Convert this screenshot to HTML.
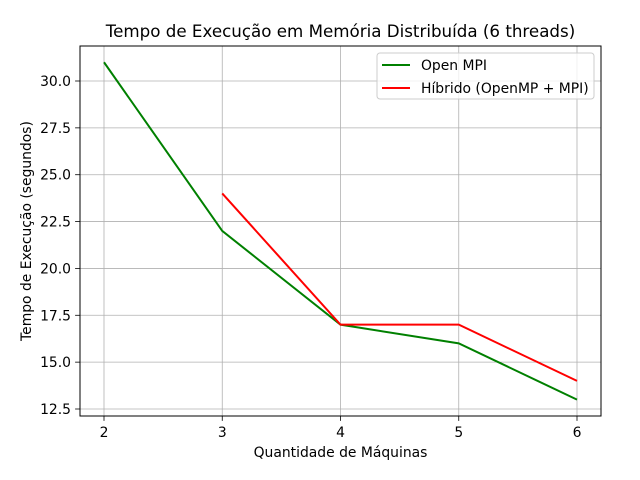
<!DOCTYPE html>
<html><head><meta charset="utf-8"><style>body{margin:0;background:#fff}svg{display:block;font-family:"DejaVu Sans","Liberation Sans",sans-serif}</style></head>
<body>
<svg id="c" width="640" height="480" xmlns="http://www.w3.org/2000/svg"></svg>
<script>
const categories=[2,3,4,5,6];
const openMpi=[31,22,17,16,13];
const hibrido=[null,24,17,17,14];
const yTicks=[12.5,15.0,17.5,20.0,22.5,25.0,27.5,30.0];
const L=80,R=601,T=46,B=416;
const xs=v=>104+(v-2)*(577-104)/4;
const ys=v=>409-(v-12.5)*(409-81)/17.5;
const svg=document.getElementById('c');
const NS='http://www.w3.org/2000/svg';
function mk(t,a,txt){const e=document.createElementNS(NS,t);for(const k in a)e.setAttribute(k,a[k]);if(txt!=null)e.textContent=txt;svg.appendChild(e);return e;}
let e;
e=mk('rect',{x:L,y:T,width:R-L,height:B-T,fill:'#fff'});


categories.forEach(c=>{const x=xs(c);
e=mk('line',{x1:x,x2:x,y1:T,y2:B,stroke:'#b0b0b0','stroke-width':0.8});


mk('line',{x1:x,x2:x,y1:B,y2:B+4.9,stroke:'#000','stroke-width':0.8});
e=mk('text',{x:x,y:B+21,'text-anchor':'middle','font-size':13.9},String(c));


});
yTicks.forEach(v=>{const y=ys(v);
e=mk('line',{x1:L,x2:R,y1:y,y2:y,stroke:'#b0b0b0','stroke-width':0.8});


mk('line',{x1:L-4.9,x2:L,y1:y,y2:y,stroke:'#000','stroke-width':0.8});
e=mk('text',{x:L-9,y:y+5,'text-anchor':'end','font-size':13.9},v.toFixed(1));


});
function line(data,color,name){let d='';data.forEach((v,i)=>{if(v==null)return;d+=(d?'L':'M')+xs(categories[i])+' '+ys(v);});
e=mk('path',{d:d,fill:'none',stroke:color,'stroke-width':2});

}
line(openMpi,'green','open-mpi-line');
line(hibrido,'red','hibrido-line');
e=mk('rect',{x:L,y:T,width:R-L,height:B-T,fill:'none',stroke:'#000','stroke-width':1});


e=mk('text',{x:(L+R)/2,y:37,'text-anchor':'middle','font-size':16.7},'Tempo de Execução em Memória Distribuída (6 threads)');


e=mk('text',{x:(L+R)/2,y:457,'text-anchor':'middle','font-size':13.9},'Quantidade de Máquinas');


e=mk('text',{x:31,y:(T+B)/2,'text-anchor':'middle','font-size':13.9,transform:'rotate(-90 31 '+((T+B)/2)+')'},'Tempo de Execução (segundos)');


e=mk('rect',{x:377,y:53,width:217,height:46,rx:3,fill:'#fff','fill-opacity':0.8,stroke:'#ccc','stroke-width':1});


[['green','Open MPI',65],['red','Híbrido (OpenMP + MPI)',88]].forEach(([c,t,y])=>{
mk('line',{x1:382,x2:410,y1:y,y2:y,stroke:c,'stroke-width':2});
e=mk('text',{x:421,y:y+5,'font-size':13.9},t);


});
</script>
</body></html>
